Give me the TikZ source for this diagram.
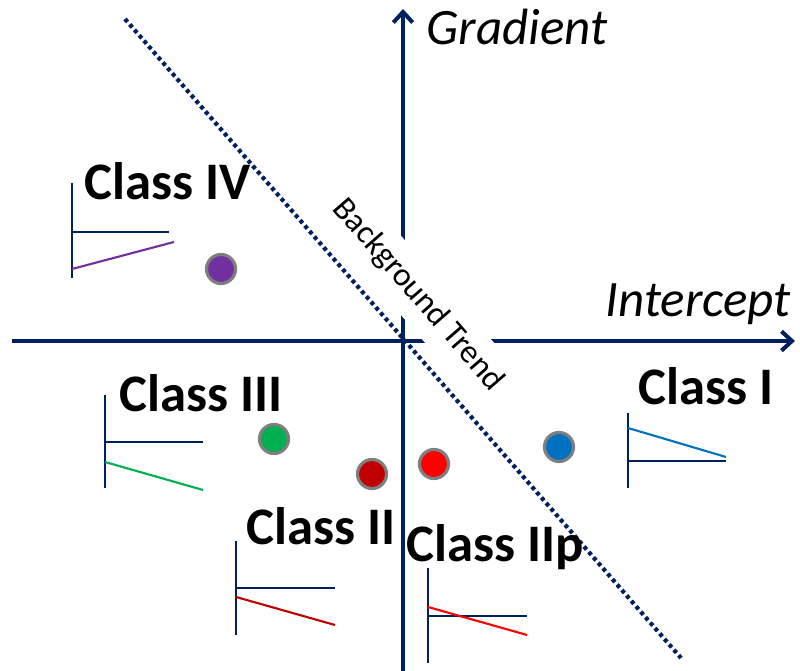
\documentclass[tikz,border=0pt]{standalone}
\usepackage{fontspec}
\setmainfont{Carlito}
\usepackage{xcolor}
\usetikzlibrary{arrows.meta,positioning}

\definecolor{axisnavy}{HTML}{002060}
\definecolor{markgrey}{HTML}{7F7F7F}
\definecolor{classIVpurple}{HTML}{7030A0}
\definecolor{classIIIgreen}{HTML}{00B050}
\definecolor{classIIdarkred}{HTML}{C00000}
\definecolor{classIIpred}{HTML}{FF0000}
\definecolor{classIblue}{HTML}{0070C0}

\begin{document}
\begin{tikzpicture}[x=0.01cm, y=-0.01cm,
  axis/.style={draw=axisnavy, line width=1.15pt},
  miniaxis/.style={draw=axisnavy, line width=0.6pt},
  minitrend/.style={line width=0.6pt},
  classlbl/.style={anchor=base west, inner sep=0pt, font=\fontsize{15}{18}\selectfont\bfseries},
  axislbl/.style={anchor=base west, inner sep=0pt, font=\fontsize{14.5}{17}\selectfont\itshape},
  marker/.style={circle, draw=markgrey, line width=0.9pt, minimum size=0.29cm, inner sep=0pt}]
  \useasboundingbox (0,0) rectangle (800,671);

  % Axes
  \coordinate (xstart) at (12,341);
  \coordinate (xend) at (795,341);
  \coordinate (ystart) at (403,671);
  \coordinate (yend) at (403,9);
  \draw[axis, -{Straight Barb[length=3pt,width=5.5pt]}] (xstart) -- (xend);
  \draw[axis, -{Straight Barb[length=3pt,width=5.5pt]}] (ystart) -- (yend);
  \node[axislbl] (gradlbl) at (426,45) {Gradient};
  \node[axislbl] (interlbl) at (605,317) {Intercept};

  % Background trend
  \node[rotate=-49, fill=white, font=\fontsize{9.4}{11}\selectfont] (trendlbl) at (418,295) {Background Trend};
  \coordinate (trendtop) at (125,19);
  \coordinate (trendbot) at (681,658);
  \draw[draw=axisnavy, line width=1.2pt, dash pattern=on 1.1pt off 0.95pt] (trendtop) -- (trendbot);

  % Class IV
  \node[classlbl] (lblIV) at (84,200) {Class IV};
  \draw[miniaxis] (72,183) -- (72,278);
  \draw[miniaxis] (72,232) -- (169,232);
  \draw[minitrend, classIVpurple] (72,269) -- (174,242);
  \node[marker, fill=classIVpurple] (markIV) at (221,269) {};

  % Class III
  \node[classlbl] (lblIII) at (119,412) {Class III};
  \draw[miniaxis] (105,395) -- (105,488);
  \draw[miniaxis] (105,442) -- (203,442);
  \draw[minitrend, classIIIgreen] (105,462) -- (203,490);
  \node[marker, fill=classIIIgreen] (markIII) at (274,439) {};

  % Class II
  \node[classlbl] (lblII) at (246,545) {Class II};
  \draw[miniaxis] (236,541) -- (236,635);
  \draw[miniaxis] (236,588) -- (335,588);
  \draw[minitrend, classIIdarkred] (236,597) -- (335,625);
  \node[marker, fill=classIIdarkred] (markII) at (372,474) {};

  % Class IIp
  \node[classlbl] (lblIIp) at (406,562) {Class IIp};
  \draw[miniaxis] (428,568) -- (428,663);
  \draw[miniaxis] (428,616) -- (527,616);
  \draw[minitrend, classIIpred] (428,607) -- (527,635);
  \node[marker, fill=classIIpred] (markIIp) at (434,464) {};

  % Class I
  \node[classlbl] (lblI) at (638,405) {Class I};
  \draw[miniaxis] (628,413) -- (628,488);
  \draw[miniaxis] (628,461) -- (726,461);
  \draw[minitrend, classIblue] (628,428) -- (726,457);
  \node[marker, fill=classIblue] (markI) at (559,447) {};
\end{tikzpicture}
\end{document}
